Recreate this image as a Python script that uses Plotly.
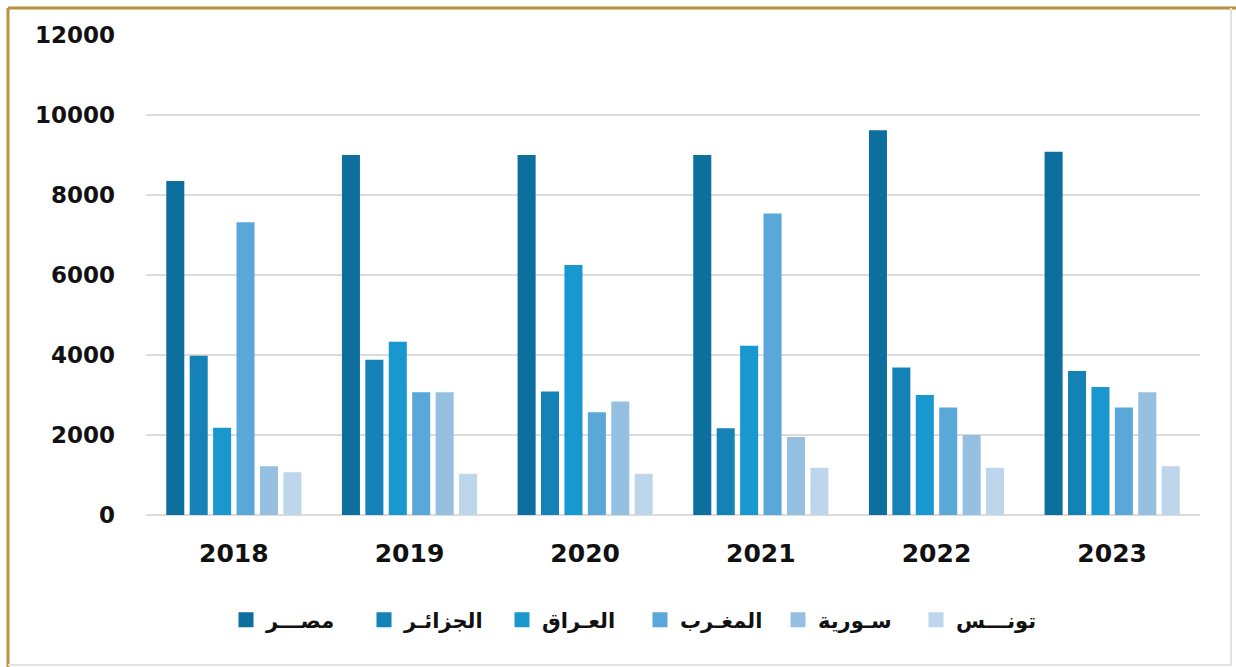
import plotly.graph_objects as go

years = ["2018", "2019", "2020", "2021", "2022", "2023"]

countries = ["مصـــر", "الجزائـر", "العـراق", "المغـرب", "سـورية", "تونـــس"]

egypt = [8350, 9000, 9000, 9000, 9620, 9080]
algeria = [3980, 3880, 3090, 2170, 3690, 3600]
iraq = [2180, 4330, 6250, 4230, 3000, 3200]
morocco = [7320, 3070, 2570, 7540, 2690, 2690]
syria = [1220, 3070, 2840, 1950, 2000, 3070]
tunisia = [1070, 1030, 1030, 1180, 1180, 1220]

series = [egypt, algeria, iraq, morocco, syria, tunisia]
colors = ["#0c6f9e", "#1482b7", "#1898cf", "#5aa8d9", "#95c0e2", "#bdd6ec"]

y_ticks = [0, 2000, 4000, 6000, 8000, 10000, 12000]
y_tick_text = ["0", "2000", "4000", "6000", "8000", "10000", "12000"]

W, H = 1236, 667
L, R, T, B = 146, 36, 35, 152
pw, ph = W - L - R, H - T - B


def px_x(p):
    return (p - L) / pw


def px_y(p):
    return (H - B - p) / ph


fig = go.Figure()
for name, vals, col in zip(countries, series, colors):
    fig.add_trace(go.Bar(x=years, y=vals, name=name, marker_color=col,
                         marker_line_width=0, showlegend=False))

# legend entries drawn as square swatches
for name, col in zip(countries, colors):
    fig.add_trace(go.Scatter(x=[None], y=[None], mode="markers", name=name,
                             marker=dict(symbol="square", size=15, color=col),
                             showlegend=True))

fig.update_layout(
    width=W, height=H,
    margin=dict(l=L, r=R, t=T, b=B, pad=0),
    paper_bgcolor="white", plot_bgcolor="white",
    barmode="group", bargap=0.2, bargroupgap=0.23,
    font=dict(family="DejaVu Sans", color="#111111"),
    showlegend=True,
    legend=dict(orientation="h", x=px_x(640), xanchor="center",
                y=px_y(620), yanchor="middle",
                font=dict(family="DejaVu Sans", size=21, color="#111111",
                          weight="bold"),
                itemwidth=30, entrywidth=93, entrywidthmode="pixels",
                traceorder="normal"),
    xaxis=dict(showgrid=False, showline=False, zeroline=False,
               tickfont=dict(family="DejaVu Sans", size=25, weight="bold",
                             color="#111111"),
               ticks="", ticklabelstandoff=21),
    yaxis=dict(range=[0, 12000], tickvals=y_ticks, ticktext=y_tick_text,
               showgrid=True, gridcolor="#dcdcdc", gridwidth=2,
               zeroline=True, zerolinecolor="#dcdcdc", zerolinewidth=2,
               showline=False,
               tickfont=dict(family="DejaVu Sans", size=23, weight="bold",
                             color="#111111"),
               ticks="", ticklabelstandoff=30),
)

gold = "#b8913b"
gray = "#e2e2e2"
frame = [
    (8, 8, 8, 667, gold, 3),
    (8, 8, 1236, 8, gold, 3),
    (1231, 8, 1231, 665, gray, 2),
    (8, 665, 1231, 665, gray, 2),
]
for x0, y0, x1, y1, col, w in frame:
    fig.add_shape(type="line", xref="paper", yref="paper",
                  x0=px_x(x0), y0=px_y(y0), x1=px_x(x1), y1=px_y(y1),
                  line=dict(color=col, width=w), layer="above")

fig.write_html("out.html")
